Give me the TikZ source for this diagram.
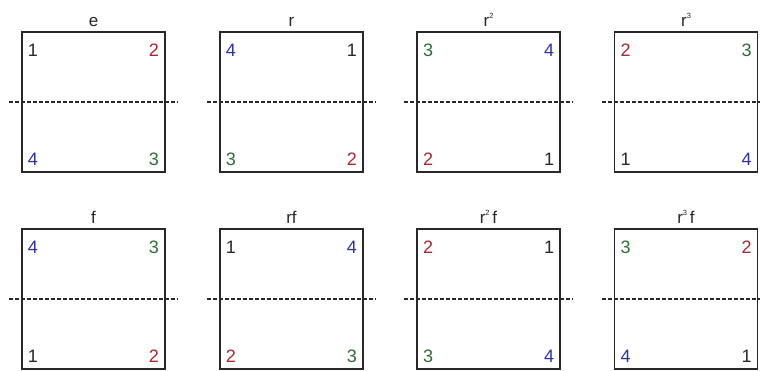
\documentclass[tikz,border=0pt]{standalone}
\usepackage{fontspec}
\setmainfont{Liberation Sans}
\definecolor{c1}{RGB}{40,40,40}
\definecolor{c2}{RGB}{165,40,45}
\definecolor{c3}{RGB}{45,110,50}
\definecolor{c4}{RGB}{45,50,170}
\newcommand\supr[1]{\raisebox{0.5em}{\fontsize{7.5}{7.5}\selectfont #1}}
\newcommand\panel[8]{%
  \node[sq] (#1) at (#2,#3) {};
  \draw[cut] ([xshift=-13pt]#1.west) -- ([xshift=13pt]#1.east);
  \node[lbl] (#1-l) at ([yshift=5pt]#1.north) {#4};
  \node[num,text=c#5] (#1-tl) at ([xshift=11pt,yshift=-18pt]#1.north west) {#5};
  \node[num,text=c#6] (#1-tr) at ([xshift=-11pt,yshift=-18pt]#1.north east) {#6};
  \node[num,text=c#7] (#1-bl) at ([xshift=11pt,yshift=13pt]#1.south west) {#7};
  \node[num,text=c#8] (#1-br) at ([xshift=-11pt,yshift=13pt]#1.south east) {#8};
}
\begin{document}
\begin{tikzpicture}[x=1pt,y=-1pt,
  sq/.style={draw=c1,line width=1.8pt,minimum width=143pt,minimum height=140pt,inner sep=0pt,outer sep=0pt},
  cut/.style={draw=c1,line width=1.3pt,dash pattern=on 4pt off 2pt},
  lbl/.style={anchor=base,font=\fontsize{17}{17}\selectfont,text=c1,inner sep=0pt},
  num/.style={font=\fontsize{18}{18}\selectfont,inner sep=0pt}]
\useasboundingbox[fill=white] (0,0) rectangle (760,371);
\panel{e}{93.5}{102}{e}{1}{2}{4}{3}
\panel{r}{291.5}{102}{r}{4}{1}{3}{2}
\panel{rr}{488.5}{102}{r\supr{2}}{3}{4}{2}{1}
\panel{rrr}{686}{102}{r\supr{3}}{2}{3}{1}{4}
\panel{f}{93.5}{299}{f}{4}{3}{1}{2}
\panel{rf}{291.5}{299}{rf}{1}{4}{2}{3}
\panel{rrf}{488.5}{299}{r\supr{2}\,f}{2}{1}{3}{4}
\panel{rrrf}{686}{299}{r\supr{3}\,f}{3}{2}{4}{1}
\end{tikzpicture}
\end{document}
